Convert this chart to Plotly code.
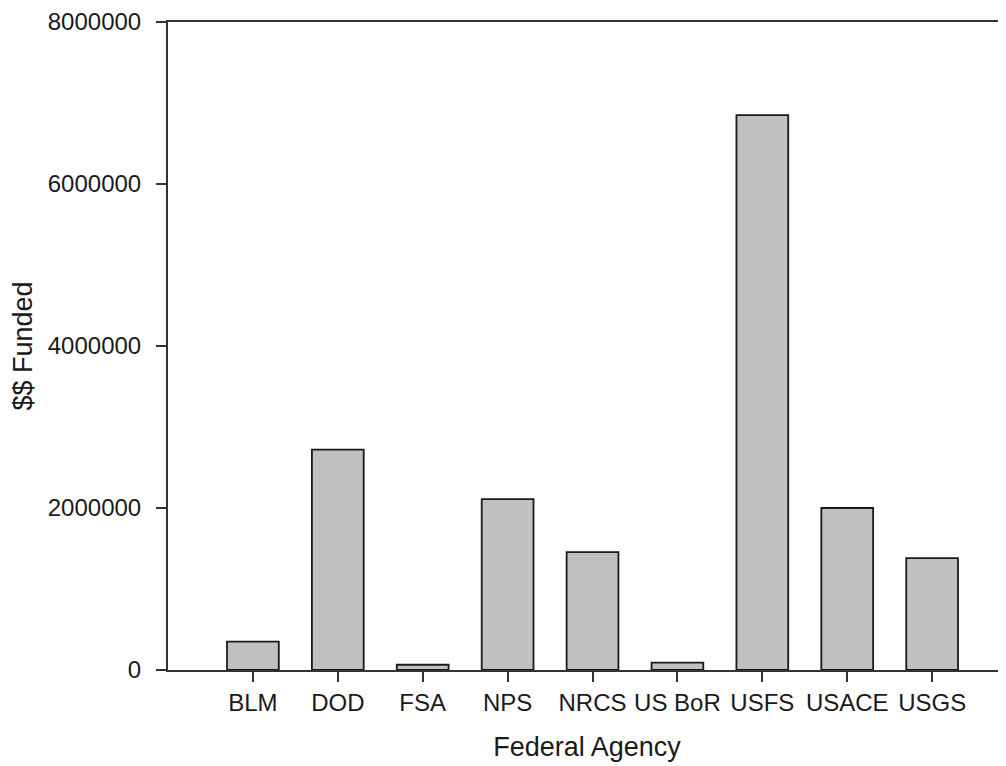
import plotly.graph_objects as go

agencies = ["BLM", "DOD", "FSA", "NPS", "NRCS", "US BoR", "USFS", "USACE", "USGS"]
funded = [350000, 2720000, 65000, 2110000, 1455000, 92000, 6850000, 2000000, 1380000]
y_ticks = [0, 2000000, 4000000, 6000000, 8000000]

FONT = "Liberation Sans, Arial, sans-serif"

fig = go.Figure(go.Bar(
    x=agencies, y=funded, width=0.61,
    marker=dict(color="#c0c0c0", line=dict(color="#1a1a1a", width=1.8)),
))

fig.update_layout(
    width=998, height=758,
    margin=dict(l=160, r=0, t=11, b=96),
    plot_bgcolor="white", paper_bgcolor="white",
    showlegend=False,
    font=dict(family=FONT, color="#1a1a1a", size=24),
)
fig.update_xaxes(
    range=[-1, 8.87],
    showline=True, linecolor="#333333", linewidth=2, mirror=True,
    ticks="outside", ticklen=10, tickwidth=1.5, tickcolor="#333333",
    tickfont=dict(size=24),
    showgrid=False, zeroline=False,
    title=dict(text="Federal Agency", font=dict(size=27), standoff=22),
)
fig.update_yaxes(
    range=[0, 8000000],
    tickvals=y_ticks, ticktext=[str(v) for v in y_ticks],
    showline=True, linecolor="#333333", linewidth=2,
    ticks="outside", ticklen=10, tickwidth=1.5, tickcolor="#333333",
    tickfont=dict(size=24), ticklabelstandoff=10, ticklabeloverflow="allow",
    showgrid=False, zeroline=False,
    title=dict(text="$$ Funded", font=dict(size=27), standoff=16),
)

fig.write_html("out.html")
